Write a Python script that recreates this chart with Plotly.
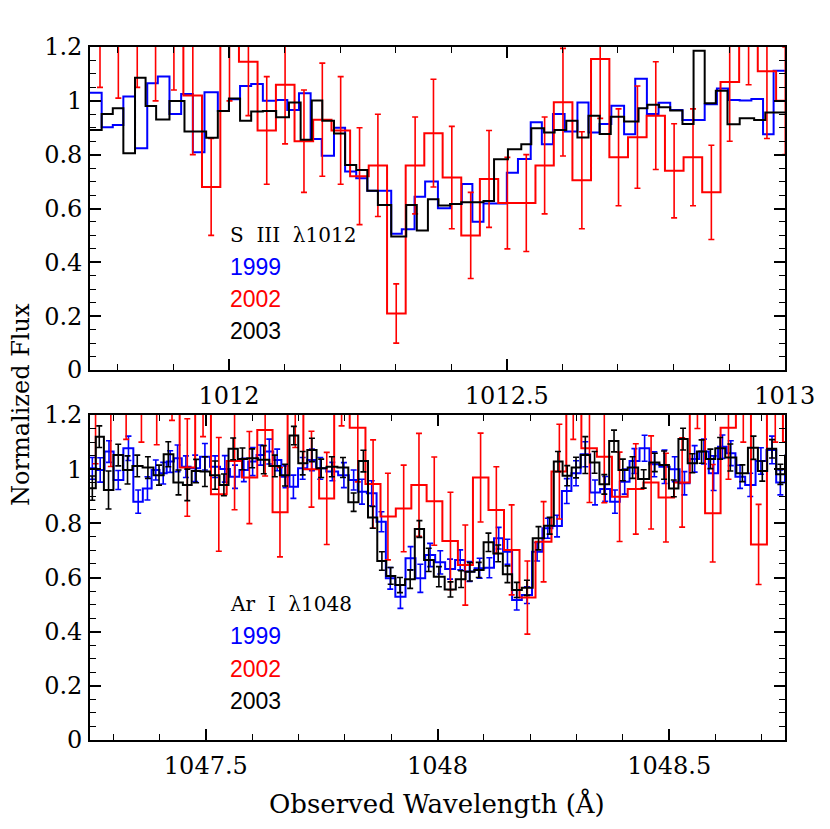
import plotly.graph_objects as go

# ---------------- TOP PANEL (S III 1012) ----------------
top_blue_edges = [1011.74, 1011.771, 1011.791, 1011.810, 1011.831, 1011.853, 1011.872, 1011.893, 1011.914, 1011.935,
                  1011.956, 1011.980, 1012.000, 1012.020, 1012.040, 1012.061, 1012.085, 1012.105, 1012.126, 1012.147,
                  1012.167, 1012.189, 1012.209, 1012.229, 1012.249, 1012.292, 1012.311, 1012.334, 1012.353, 1012.376,
                  1012.398, 1012.419, 1012.438, 1012.458, 1012.500, 1012.520, 1012.543, 1012.563, 1012.583, 1012.604,
                  1012.627, 1012.647, 1012.667, 1012.688, 1012.711, 1012.731, 1012.752, 1012.773, 1012.794, 1012.816,
                  1012.856, 1012.878, 1012.898, 1012.919, 1012.940, 1012.961, 1012.980, 1013.01]
top_blue_flux = [1.030, 0.902, 0.910, 1.016, 0.824, 1.065, 1.090, 0.951, 1.025, 0.809,
                 1.032, 0.962, 1.006, 1.055, 1.063, 1.000, 1.003, 0.966, 1.028, 0.858,
                 0.796, 0.900, 0.737, 0.712, 0.666, 0.506, 0.523, 0.644, 0.700, 0.601,
                 0.617, 0.691, 0.551, 0.619, 0.733, 0.784, 0.920, 0.839, 0.951, 0.886,
                 0.994, 0.882, 0.914, 0.982, 0.876, 1.082, 0.951, 0.993, 0.966, 0.929,
                 0.987, 1.046, 1.003, 1.001, 1.007, 0.876, 1.112]

top_black_edges = [1011.74, 1011.771, 1011.791, 1011.810, 1011.831, 1011.850, 1011.869, 1011.893, 1011.920, 1011.959,
                   1011.980, 1012.000, 1012.020, 1012.040, 1012.061, 1012.085, 1012.108, 1012.129, 1012.149, 1012.168,
                   1012.189, 1012.209, 1012.229, 1012.249, 1012.268, 1012.292, 1012.319, 1012.338, 1012.358, 1012.377,
                   1012.398, 1012.418, 1012.458, 1012.477, 1012.502, 1012.526, 1012.544, 1012.567, 1012.586, 1012.607,
                   1012.627, 1012.647, 1012.667, 1012.687, 1012.711, 1012.737, 1012.753, 1012.774, 1012.794, 1012.816,
                   1012.836, 1012.856, 1012.876, 1012.897, 1012.919, 1012.945, 1012.965, 1013.01]
top_black_flux = [0.892, 0.951, 0.972, 0.805, 1.086, 0.981, 0.931, 0.999, 0.886, 0.863,
                  0.962, 1.009, 0.926, 0.960, 0.962, 0.939, 0.994, 0.855, 1.001, 0.926,
                  0.879, 0.762, 0.743, 0.666, 0.613, 0.496, 0.613, 0.518, 0.634, 0.611,
                  0.617, 0.623, 0.628, 0.783, 0.820, 0.839, 0.898, 0.882, 0.892, 0.926,
                  0.864, 0.945, 0.877, 0.941, 0.923, 0.972, 0.985, 0.976, 0.964, 0.914,
                  1.186, 0.991, 1.037, 0.913, 0.935, 0.929, 0.957]

top_red_wave = [1011.735, 1011.768, 1011.801, 1011.835, 1011.868, 1011.901, 1011.935, 1011.968, 1012.001, 1012.035,
                1012.068, 1012.101, 1012.135, 1012.168, 1012.201, 1012.235, 1012.268, 1012.301, 1012.335, 1012.368,
                1012.401, 1012.435, 1012.468, 1012.501, 1012.535, 1012.568, 1012.601, 1012.635, 1012.668, 1012.701,
                1012.735, 1012.768, 1012.801, 1012.835, 1012.868, 1012.901, 1012.935, 1012.968, 1013.001, 1013.035]
top_red_flux = [1.25, 1.25, 1.22, 1.26, 1.22, 1.24, 1.02, 0.68, 1.22, 1.145,
                0.89, 1.06, 0.85, 0.93, 0.89, 0.72, 0.76, 0.21, 0.76, 0.88,
                0.715, 0.50, 0.71, 0.62, 0.62, 0.76, 0.995, 0.705, 1.155, 0.79,
                0.865, 0.945, 0.74, 0.79, 0.66, 1.07, 1.28, 1.11, 1.0, 1.0]
top_red_err = [0.20, 0.20, 0.21, 0.21, 0.22, 0.20, 0.22, 0.18, 0.22, 0.20,
               0.20, 0.22, 0.19, 0.21, 0.20, 0.18, 0.19, 0.11, 0.18, 0.20,
               0.19, 0.16, 0.18, 0.17, 0.18, 0.18, 0.20, 0.18, 0.22, 0.18,
               0.19, 0.20, 0.175, 0.18, 0.175, 0.22, 0.22, 0.25, 0.20, 0.20]

# ---------------- BOTTOM PANEL (Ar I 1048) ----------------
bot_blue_wave = [1047.24, 1047.255, 1047.272, 1047.291, 1047.311, 1047.333, 1047.354, 1047.374, 1047.392, 1047.408,
                 1047.423, 1047.439, 1047.457, 1047.477, 1047.498, 1047.520, 1047.541, 1047.563, 1047.582, 1047.601,
                 1047.618, 1047.637, 1047.654, 1047.672, 1047.689, 1047.709, 1047.729, 1047.747, 1047.773, 1047.798,
                 1047.819, 1047.837, 1047.858, 1047.879, 1047.898, 1047.920, 1047.942, 1047.963, 1047.984, 1048.006,
                 1048.027, 1048.049, 1048.069, 1048.091, 1048.112, 1048.132, 1048.151, 1048.171, 1048.193, 1048.215,
                 1048.238, 1048.258, 1048.279, 1048.299, 1048.319, 1048.340, 1048.362, 1048.383, 1048.404, 1048.425,
                 1048.447, 1048.468, 1048.490, 1048.512, 1048.533, 1048.555, 1048.575, 1048.596, 1048.615, 1048.633,
                 1048.653, 1048.675, 1048.698, 1048.722, 1048.740, 1048.760]
bot_blue_flux = [1.003, 1.003, 0.997, 1.065, 0.960, 1.077, 0.880, 0.929, 0.997, 0.985,
                 1.028, 1.040, 1.009, 1.003, 1.046, 1.009, 1.001, 0.972, 0.997, 1.028,
                 1.052, 1.065, 1.034, 0.972, 0.935, 1.003, 1.034, 1.003, 0.991, 0.978,
                 0.960, 0.917, 0.911, 0.806, 0.597, 0.529, 0.671, 0.597, 0.683, 0.656,
                 0.631, 0.665, 0.622, 0.634, 0.636, 0.745, 0.695, 0.517, 0.535, 0.695,
                 0.782, 0.790, 0.919, 0.985, 1.055, 0.914, 0.927, 0.880, 0.954, 1.030,
                 1.077, 1.018, 1.009, 1.000, 0.948, 1.038, 1.065, 0.985, 1.083, 1.059,
                 0.972, 0.942, 1.030, 1.071, 0.951, 1.050]
bot_blue_err = [0.04, 0.04, 0.045, 0.04, 0.035, 0.045, 0.043, 0.043, 0.037, 0.04,
                0.04, 0.049, 0.04, 0.049, 0.049, 0.04, 0.049, 0.043, 0.043, 0.052,
                0.037, 0.046, 0.04, 0.04, 0.043, 0.04, 0.04, 0.04, 0.034, 0.046,
                0.037, 0.046, 0.046, 0.037, 0.04, 0.043, 0.043, 0.052, 0.043, 0.043,
                0.037, 0.037, 0.037, 0.037, 0.037, 0.04, 0.046, 0.037, 0.031, 0.034,
                0.037, 0.04, 0.046, 0.046, 0.046, 0.046, 0.046, 0.043, 0.046, 0.046,
                0.048, 0.046, 0.062, 0.046, 0.043, 0.049, 0.046, 0.064, 0.043, 0.046,
                0.043, 0.043, 0.049, 0.051, 0.046, 0.04]

bot_black_wave = [1047.24, 1047.255, 1047.270, 1047.290, 1047.311, 1047.331, 1047.352, 1047.375, 1047.399, 1047.419,
                  1047.441, 1047.460, 1047.479, 1047.498, 1047.520, 1047.539, 1047.559, 1047.579, 1047.600, 1047.625,
                  1047.649, 1047.671, 1047.690, 1047.709, 1047.729, 1047.749, 1047.772, 1047.796, 1047.819, 1047.840,
                  1047.860, 1047.880, 1047.899, 1047.919, 1047.941, 1047.961, 1047.981, 1048.003, 1048.028, 1048.051,
                  1048.070, 1048.089, 1048.110, 1048.131, 1048.151, 1048.171, 1048.193, 1048.218, 1048.242, 1048.260,
                  1048.280, 1048.299, 1048.319, 1048.339, 1048.360, 1048.381, 1048.400, 1048.421, 1048.445, 1048.469,
                  1048.489, 1048.510, 1048.530, 1048.550, 1048.570, 1048.589, 1048.610, 1048.632, 1048.658, 1048.682,
                  1048.701, 1048.722, 1048.740, 1048.760]
bot_black_flux = [0.93, 0.93, 1.12, 0.923, 1.052, 0.997, 1.012, 1.006, 0.978, 1.055,
                  0.951, 0.942, 0.993, 0.991, 0.978, 0.942, 1.075, 1.038, 1.040, 1.035,
                  1.012, 0.978, 1.124, 1.022, 1.071, 1.003, 1.009, 1.006, 0.878, 1.030,
                  0.822, 0.661, 0.606, 0.572, 0.594, 0.779, 0.665, 0.603, 0.556, 0.594,
                  0.621, 0.628, 0.730, 0.689, 0.612, 0.554, 0.562, 0.745, 0.791, 1.028,
                  0.976, 1.006, 1.052, 1.025, 0.944, 1.104, 0.997, 1.006, 0.964, 1.025,
                  1.015, 0.929, 1.111, 1.022, 1.065, 1.038, 1.077, 1.043, 0.985, 1.079,
                  0.993, 1.075, 0.981, 1.050]
bot_black_err = [0.045, 0.045, 0.04, 0.07, 0.04, 0.052, 0.04, 0.04, 0.037, 0.046,
                 0.046, 0.058, 0.043, 0.055, 0.052, 0.04, 0.04, 0.04, 0.035, 0.052,
                 0.04, 0.04, 0.034, 0.043, 0.043, 0.034, 0.037, 0.037, 0.034, 0.04,
                 0.04, 0.034, 0.031, 0.028, 0.034, 0.031, 0.043, 0.037, 0.028, 0.031,
                 0.034, 0.028, 0.034, 0.031, 0.031, 0.028, 0.028, 0.043, 0.031, 0.037,
                 0.037, 0.038, 0.068, 0.04, 0.036, 0.04, 0.04, 0.04, 0.034, 0.034,
                 0.052, 0.031, 0.04, 0.035, 0.043, 0.036, 0.04, 0.05, 0.031, 0.043,
                 0.037, 0.034, 0.037, 0.04]

bot_red_wave = [1047.229, 1047.262, 1047.295, 1047.328, 1047.361, 1047.394, 1047.427, 1047.460, 1047.494, 1047.528,
                1047.562, 1047.594, 1047.628, 1047.660, 1047.693, 1047.728, 1047.761, 1047.793, 1047.828, 1047.861,
                1047.893, 1047.927, 1047.960, 1047.993, 1048.028, 1048.060, 1048.093, 1048.127, 1048.160, 1048.194,
                1048.229, 1048.263, 1048.293, 1048.328, 1048.360, 1048.393, 1048.428, 1048.461, 1048.493, 1048.528,
                1048.561, 1048.594, 1048.628, 1048.660, 1048.693, 1048.729, 1048.762]
bot_red_flux = [1.25, 1.22, 1.22, 1.33, 1.30, 1.29, 1.38, 1.006, 1.32, 0.907,
                1.030, 0.969, 1.145, 0.841, 1.28, 1.0, 0.892, 1.33, 1.153, 0.945,
                0.825, 0.855, 0.942, 0.882, 0.735, 0.646, 0.969, 0.849, 0.702, 0.526,
                0.732, 0.991, 1.30, 1.077, 1.046, 0.898, 0.927, 0.951, 0.895, 0.951,
                1.35, 0.837, 1.153, 1.30, 0.722, 1.30, 1.10]
bot_red_err = [0.20, 0.20, 0.21, 0.22, 0.20, 0.20, 0.20, 0.18, 0.20, 0.21,
               0.18, 0.17, 0.17, 0.165, 0.20, 0.14, 0.17, 0.17, 0.20, 0.163,
               0.16, 0.16, 0.19, 0.163, 0.18, 0.148, 0.164, 0.16, 0.166, 0.135,
               0.148, 0.175, 0.19, 0.20, 0.17, 0.165, 0.167, 0.172, 0.164, 0.165,
               0.20, 0.18, 0.19, 0.20, 0.148, 0.20, 0.20]

# ---------------- labels ----------------
year_labels = ["1999", "2002", "2003"]
year_colors = ["#0000ff", "#ff0000", "#000000"]
line_labels = ["S\u00a0\u00a0III\u00a0\u00a0\u03bb1012", "Ar\u00a0\u00a0I\u00a0\u00a0\u03bb1048"]
y_tickvals = [0, 0.2, 0.4, 0.6, 0.8, 1.0, 1.2]
y_ticktext = ["0", "0.2", "0.4", "0.6", "0.8", "1", "1.2"]
top_xticks = [1012, 1012.5, 1013]
top_xtext = ["1012", "1012.5", "1013"]
bot_xticks = [1047.5, 1048, 1048.5]
bot_xtext = ["1047.5", "1048", "1048.5"]

BLUE, RED, BLACK = year_colors

fig = go.Figure()

# top panel
fig.add_trace(go.Scatter(x=top_blue_edges, y=top_blue_flux + [top_blue_flux[-1]], mode="lines",
                         line=dict(color=BLUE, width=2, shape="hv"), xaxis="x", yaxis="y", showlegend=False))
fig.add_trace(go.Scatter(x=top_red_wave, y=top_red_flux, mode="lines",
                         line=dict(color=RED, width=2, shape="hvh"),
                         error_y=dict(type="data", array=top_red_err, color=RED, thickness=1.6, width=3),
                         xaxis="x", yaxis="y", showlegend=False))
fig.add_trace(go.Scatter(x=top_black_edges, y=top_black_flux + [top_black_flux[-1]], mode="lines",
                         line=dict(color=BLACK, width=2, shape="hv"), xaxis="x", yaxis="y", showlegend=False))

# bottom panel
fig.add_trace(go.Scatter(x=bot_blue_wave, y=bot_blue_flux, mode="lines",
                         line=dict(color=BLUE, width=2, shape="hvh"),
                         error_y=dict(type="data", array=bot_blue_err, color=BLUE, thickness=1.6, width=3),
                         xaxis="x2", yaxis="y2", showlegend=False))
fig.add_trace(go.Scatter(x=bot_red_wave, y=bot_red_flux, mode="lines",
                         line=dict(color=RED, width=2, shape="hvh"),
                         error_y=dict(type="data", array=bot_red_err, color=RED, thickness=1.6, width=3),
                         xaxis="x2", yaxis="y2", showlegend=False))
fig.add_trace(go.Scatter(x=bot_black_wave, y=bot_black_flux, mode="lines",
                         line=dict(color=BLACK, width=2, shape="hvh"),
                         error_y=dict(type="data", array=bot_black_err, color=BLACK, thickness=1.6, width=3),
                         xaxis="x2", yaxis="y2", showlegend=False))

tick_font = dict(family="DejaVu Serif", size=24, color="black")
common = dict(showline=True, linecolor="black", linewidth=1.6, mirror="ticks", ticks="inside",
              ticklen=11, tickwidth=1.5, tickcolor="black", showgrid=False, zeroline=False,
              tickfont=tick_font)

H = 693.0
top_dom = [(740 - 370) / H, 1.0]
bot_dom = [0.0, (740 - 415) / H]

fig.update_layout(
    width=830, height=829,
    margin=dict(l=82, r=53, t=39, b=97),
    paper_bgcolor="white", plot_bgcolor="white",
    xaxis=dict(domain=[0, 1], anchor="y", range=[1011.75, 1013.0005], tickvals=top_xticks, ticktext=top_xtext,
               minor=dict(dtick=0.1, tick0=1012, ticks="inside", ticklen=6, tickwidth=1.3, tickcolor="black"),
               ticklabelstandoff=3, **common),
    yaxis=dict(domain=top_dom, anchor="x", range=[0, 1.2], tickvals=y_tickvals, ticktext=y_ticktext,
               minor=dict(dtick=0.05, tick0=0, ticks="inside", ticklen=6, tickwidth=1.3, tickcolor="black"),
               ticklabelstandoff=1, **common),
    xaxis2=dict(domain=[0, 1], anchor="y2", range=[1047.25, 1048.75], tickvals=bot_xticks, ticktext=bot_xtext,
                minor=dict(dtick=0.1, tick0=1047.5, ticks="inside", ticklen=6, tickwidth=1.3, tickcolor="black"),
                ticklabelstandoff=3, **common),
    yaxis2=dict(domain=bot_dom, anchor="x2", range=[0, 1.2], tickvals=y_tickvals, ticktext=y_ticktext,
                minor=dict(dtick=0.05, tick0=0, ticks="inside", ticklen=6, tickwidth=1.3, tickcolor="black"),
                ticklabelstandoff=1, **common),
)

annotations = []
label_font = dict(family="DejaVu Serif", size=20, color="black")
year_font_family = "Liberation Sans"

# positions in each panel's domain coordinates (fraction of panel height)
label_rows = [0.418, 0.319, 0.220, 0.121]
for panel, (xr, yr) in enumerate([("x domain", "y domain"), ("x2 domain", "y2 domain")]):
    annotations.append(dict(xref=xr, yref=yr, x=0.198, y=label_rows[0], text=line_labels[panel],
                            showarrow=False, xanchor="left", yanchor="middle", font=label_font))
    for i, (lab, col) in enumerate(zip(year_labels, year_colors)):
        annotations.append(dict(xref=xr, yref=yr, x=0.198, y=label_rows[i + 1], text=lab, showarrow=False,
                                xanchor="left", yanchor="middle",
                                font=dict(family=year_font_family, size=23, color=col)))

annotations.append(dict(xref="paper", yref="paper", x=(437 - 90) / 695.0, y=(740 - 803) / H,
                        text="Observed Wavelength (\u00c5)", showarrow=False, xanchor="center", yanchor="middle",
                        font=dict(family="DejaVu Serif", size=26, color="black")))
annotations.append(dict(xref="paper", yref="paper", x=(21 - 90) / 695.0, y=(740 - 405) / H,
                        text="Normalized Flux", showarrow=False, textangle=-90, xanchor="center", yanchor="middle",
                        borderpad=0, font=dict(family="DejaVu Serif", size=24, color="black")))
fig.update_layout(annotations=annotations)

fig.write_html("out.html")
